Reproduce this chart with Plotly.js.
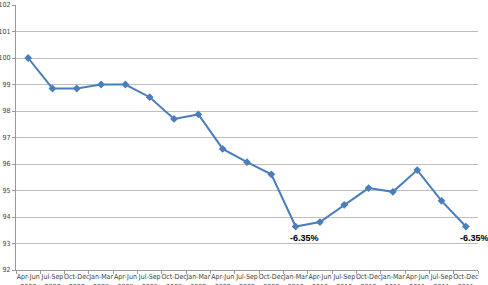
<!DOCTYPE html>
<html><head><meta charset="utf-8">
<script src="https://cdn.plot.ly/plotly-3.0.1.min.js"></script>
<style>html,body{margin:0;padding:0;background:#fff}#c{width:488px;height:285px}</style>
</head><body><div id="c"></div>
<script>
const quarters = ["Apr-Jun","Jul-Sep","Oct-Dec","Jan-Mar","Apr-Jun","Jul-Sep","Oct-Dec","Jan-Mar","Apr-Jun","Jul-Sep","Oct-Dec","Jan-Mar","Apr-Jun","Jul-Sep","Oct-Dec","Jan-Mar","Apr-Jun","Jul-Sep","Oct-Dec"];
const years = ["2007","2007","2007","2008","2008","2008","2008","2009","2009","2009","2009","2010","2010","2010","2010","2011","2011","2011","2011"];
const values = [100, 98.85, 98.85, 99.0, 99.0, 98.52, 97.7, 97.87, 96.57, 96.07, 95.61, 93.64, 93.81, 94.46, 95.09, 94.95, 95.77, 94.61, 93.64];
const labelIdx = [11, 18];
const labelText = ["-6.35%", "-6.35%"];

const cats = quarters.map((q, i) => q + "<br>" + years[i]);

const trace = {
  x: cats, y: values, type: 'scatter', mode: 'lines+markers',
  line: {color: '#4A7EBB', width: 2},
  marker: {symbol: 'diamond', size: 6, color: '#4A7EBB'},
  hoverinfo: 'none'
};

const annotations = labelIdx.map((k, j) => ({
  x: cats[k], y: values[k], xref: 'x', yref: 'y',
  text: '<b>' + labelText[j] + '</b>', showarrow: false,
  xshift: 9, yshift: -11,
  font: {family: 'Liberation Sans, Arial, sans-serif', size: 9, color: '#000'}
}));

const narrow = 'Liberation Sans Narrow, DejaVu Sans Condensed, Arial Narrow, sans-serif';

const layout = {
  width: 488, height: 285,
  margin: {l: 16, r: 10, t: 5, b: 15},
  paper_bgcolor: '#fff', plot_bgcolor: '#fff',
  showlegend: false,
  font: {family: narrow, size: 7, color: '#404040'},
  xaxis: {
    type: 'category', tickson: 'boundaries', ticks: 'outside', ticklen: 3,
    tickcolor: '#999', showline: true, linecolor: '#999', linewidth: 1,
    showgrid: false, tickangle: 0, tickfont: {family: narrow, size: 7, color: '#404040'},
    range: [-0.5, 18.5]
  },
  yaxis: {
    range: [92, 102], dtick: 1, tick0: 92, showgrid: true, gridcolor: '#bfbfbf', gridwidth: 1,
    showline: true, linecolor: '#999', ticks: 'outside', ticklen: 3, tickcolor: '#999',
    zeroline: false, tickfont: {family: narrow, size: 7, color: '#404040'}
  },
  annotations: annotations
};

Plotly.newPlot('c', [trace], layout, {displayModeBar: false, staticPlot: true});
</script>
</body></html>
